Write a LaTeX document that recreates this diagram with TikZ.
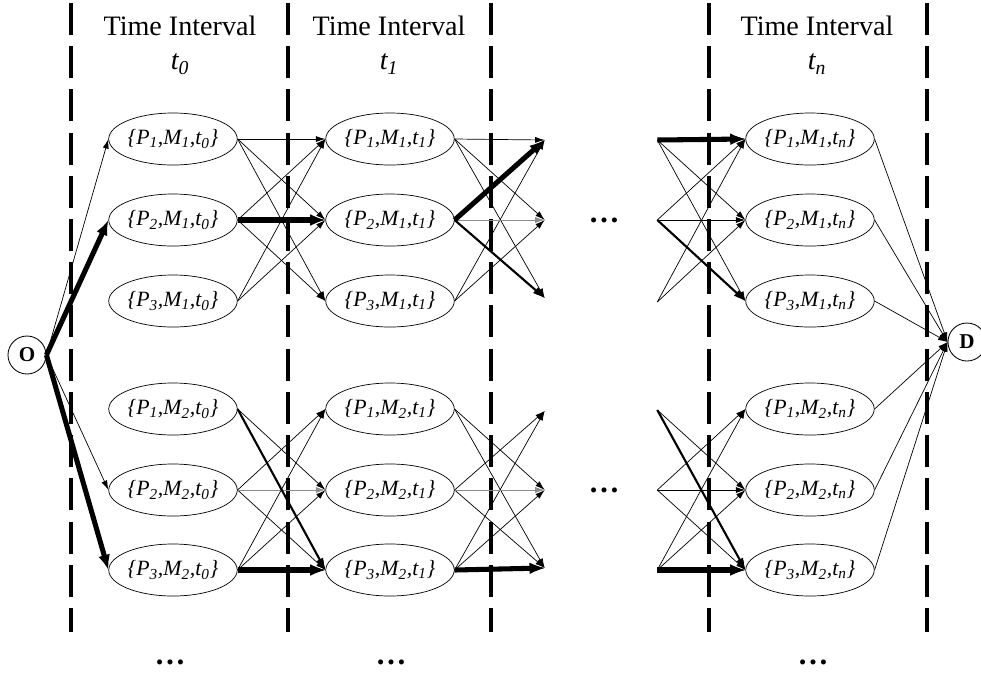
\documentclass[tikz,border=0pt]{standalone}
\usepackage{fontspec}
\setmainfont{Liberation Serif}
\usetikzlibrary{arrows.meta,shapes.geometric}
\tikzset{
  border/.style={line width=2.2pt, dash pattern=on 0.8cm off 0.28cm},
  header/.style={font=\fontsize{20}{24}\selectfont, inner sep=0pt},
  tlabel/.style={header, font=\fontsize{20}{24}\selectfont\itshape},
  state/.style={ellipse, draw, line width=0.5pt, minimum width=3.05cm, minimum height=1.3cm,
    inner sep=0pt, font=\fontsize{15.5}{18}\selectfont\itshape},
  endpoint/.style={circle, draw, line width=0.6pt, minimum size=0.95cm, inner sep=0pt,
    font=\fontsize{15}{17}\selectfont\bfseries},
  stub/.style={inner sep=0pt, minimum size=0pt},
  dots/.style={font=\fontsize{22}{26}\selectfont\bfseries, inner sep=0pt},
  link/.style={-{Latex[length=2.4mm,width=1.5mm]}, line width=0.5pt},
  graylink/.style={link, draw=black!45},
  midlink/.style={-{Latex[length=3mm,width=2mm]}, line width=1.5pt},
  boldlink/.style={-{Latex[length=3.8mm,width=3mm]}, line width=3.6pt},
}
\begin{document}
\begin{tikzpicture}[x=0.025cm, y=-0.025cm]
  \useasboundingbox (0,0) rectangle (981,687);
  % interval borders
  \foreach \x in {71,288,491,709,927}
    \draw[border] (\x,3) -- (\x,632);
  % interval headers
  \node[header] (h0) at (180,26) {Time Interval};
  \node[tlabel] (t0) at (180,64) {t\textsubscript{0}};
  \node[header] (h1) at (389,26) {Time Interval};
  \node[tlabel] (t1) at (389,64) {t\textsubscript{1}};
  \node[header] (hn) at (817,26) {Time Interval};
  \node[tlabel] (tn) at (817,64) {t\textsubscript{n}};
  % states {P,M,t}
  \foreach \c/\x in {0/173,1/390,n/810}{
    \foreach \p/\y in {1/139,2/220,3/301}
      \node[state] (s\c1\p) at (\x,\y) {\{P\textsubscript{\p},M\textsubscript{1},t\textsubscript{\c}\}};
    \foreach \p/\y in {1/409,2/490,3/570}
      \node[state] (s\c2\p) at (\x,\y) {\{P\textsubscript{\p},M\textsubscript{2},t\textsubscript{\c}\}};
  }
  % origin and destination
  \node[endpoint] (O) at (27,355) {O};
  \node[endpoint] (D) at (967,342) {D};
  % open ends of the omitted intervals
  \foreach \p/\y in {1/140,2/220,3/298}
    \node[stub] (i1\p) at (545,\y) {};
  \foreach \p/\y in {1/411,2/490,3/568}
    \node[stub] (i2\p) at (545,\y) {};
  \foreach \p/\y in {1/140,2/220,3/302}
    \node[stub] (o1\p) at (657,\y) {};
  \foreach \p/\y in {1/410,2/490,3/570}
    \node[stub] (o2\p) at (657,\y) {};
  \node[dots] (m1) at (604,220) {…};
  \node[dots] (m2) at (604,490) {…};
  \node[dots] (b0) at (170,662) {…};
  \node[dots] (b1) at (391,662) {…};
  \node[dots] (bn) at (813,662) {…};
  % transitions between intervals
  \foreach \a/\b/\h in {s0/s1/graylink, s1/i/graylink, o/sn/link}{
    \foreach \p/\q in {1/1,1/2,1/3,2/1,2/3,3/1,3/2}
      \draw[link] (\a1\p.east) -- (\b1\q.west);
    \foreach \p/\q in {1/2,1/3,2/1,2/3,3/1,3/2,3/3}
      \draw[link] (\a2\p.east) -- (\b2\q.west);
    \draw[\h] (\a12.east) -- (\b12.west);
    \draw[\h] (\a22.east) -- (\b22.west);
  }
  \draw[link] (O.east) -- (s011.west);
  \draw[link] (O.east) -- (s022.west);
  \foreach \m in {1,2}
    \foreach \p in {1,2,3}
      \draw[link] (sn\m\p.east) -- (D.west);
  % highlighted routes
  \draw[boldlink] (O.east) -- (s012.west);
  \draw[boldlink] (s012.east) -- (s112.west);
  \draw[boldlink] (s112.east) -- (i11.west);
  \draw[midlink] (s112.east) -- (i13.west);
  \draw[boldlink] (o11.east) -- (sn11.west);
  \draw[midlink] (o12.east) -- (sn13.west);
  \draw[boldlink] (O.east) -- (s023.west);
  \draw[midlink] (s021.east) -- (s123.west);
  \draw[boldlink] (s023.east) -- (s123.west);
  \draw[boldlink] (s123.east) -- (i23.west);
  \draw[midlink] (o21.east) -- (sn23.west);
  \draw[boldlink] (o23.east) -- (sn23.west);
\end{tikzpicture}
\end{document}
